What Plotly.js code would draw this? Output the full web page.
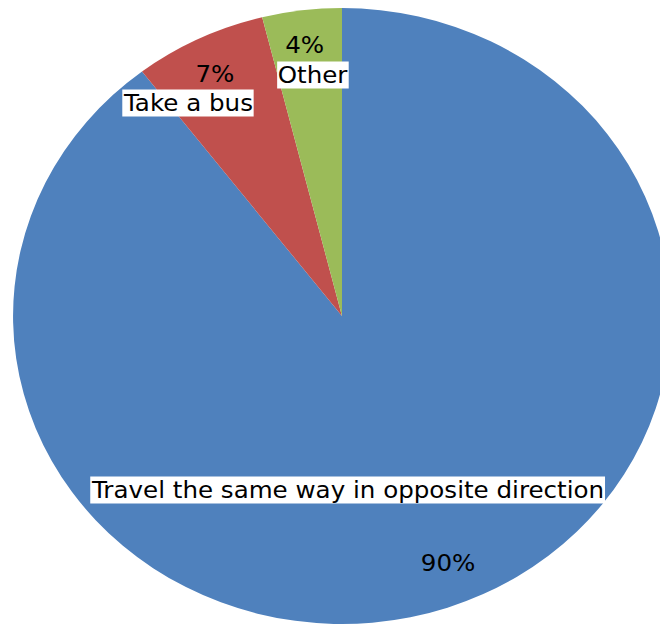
<!DOCTYPE html>
<html><head><meta charset="utf-8">
<script src="https://cdn.plot.ly/plotly-3.0.1.min.js"></script>
<style>
html,body{margin:0;padding:0;background:#fff;overflow:hidden;width:660px;height:626px}
#chart{width:630px;height:626px;transform:scaleX(1.068);transform-origin:0 0}
</style>
</head><body><div id="chart"></div>
<script>
const categories = ["Travel the same way in opposite direction", "Take a bus", "Other"];
const values = [89.6, 6.5, 3.9];
const percentLabels = ["90%", "7%", "4%"];
const colors = ["#4F81BD", "#C0504D", "#9BBB59"];

const S = 1.068;          // horizontal stretch of the original picture
const W = 630, H = 626;   // plot size before stretch
function px(x){return (x / S) / W;}
function py(y){return 1 - y / H;}
const fnt = {family: "'DejaVu Sans', Verdana, sans-serif", size: 23, color: "#000"};

const annotations = [
  {x: px(348), y: py(490), text: categories[0], bg: true},
  {x: px(448), y: py(563), text: percentLabels[0], bg: false},
  {x: px(188), y: py(103), text: categories[1], bg: true},
  {x: px(215), y: py(74), text: percentLabels[1], bg: false},
  {x: px(313), y: py(75), text: categories[2], bg: true},
  {x: px(305), y: py(45), text: percentLabels[2], bg: false}
].map(a => ({
  x: a.x, y: a.y, xref: "paper", yref: "paper", text: a.text, showarrow: false,
  xanchor: "center", yanchor: "middle", font: fnt,
  bgcolor: a.bg ? "#fff" : "rgba(0,0,0,0)", borderpad: 0
}));

Plotly.newPlot("chart", [{
  type: "pie",
  labels: categories,
  values: values,
  sort: false,
  direction: "clockwise",
  rotation: 0,
  marker: {colors: colors, line: {width: 0}},
  textinfo: "none",
  hoverinfo: "label+percent",
  domain: {x: [0.0194, 0.9971], y: [0.0032, 0.9872]}
}], {
  width: W, height: H,
  margin: {l: 0, r: 0, t: 0, b: 0},
  showlegend: false,
  paper_bgcolor: "#fff",
  annotations: annotations
}, {displayModeBar: false, staticPlot: true});
</script></body></html>
